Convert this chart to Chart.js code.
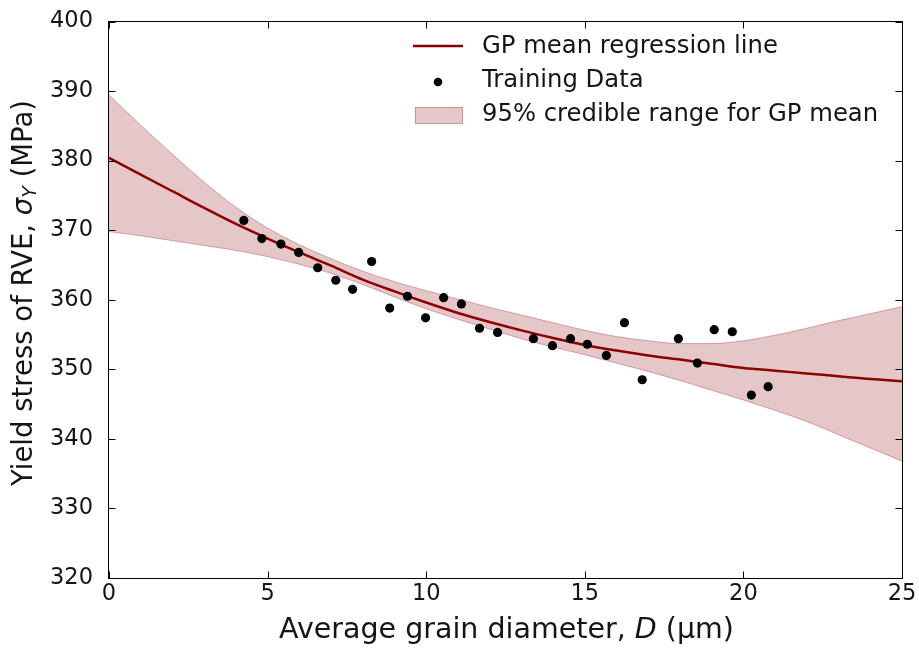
<!DOCTYPE html>
<html><head><meta charset="utf-8">
<script src="https://cdn.jsdelivr.net/npm/chart.js@4"></script>
<style>html,body{margin:0;padding:0;background:#fff}#wrap{position:relative;width:919px;height:649px}</style>
</head><body><div id="wrap"><canvas id="c" width="919" height="649"></canvas></div>
<script>
// ---- data ----
const gridX  = [0,1,2,3,4,5,6,7,8,9,10,11,12,13,14,15,16,17,18,19,20,21,22,23,24,25];
const meanY  = [380.4,378.0,375.6,373.2,370.9,368.8,366.8,364.9,362.9,361.2,359.6,358.1,356.8,355.6,354.5,353.5,352.7,352.0,351.4,350.8,350.2,349.8,349.4,349.0,348.6,348.3];
const upperY = [389.4,385.1,380.9,376.9,373.3,370.3,367.9,365.9,364.1,362.6,361.3,360.1,358.9,357.8,356.7,355.6,354.7,354.1,353.7,353.7,354.1,354.9,355.9,357.0,358.0,359.0];
const lowerY = [369.8,369.2,368.5,367.8,367.1,366.2,365.1,363.8,362.2,360.4,358.7,357.2,355.8,354.4,353.2,352.1,350.9,349.7,348.4,347.0,345.6,344.1,342.5,340.6,338.7,336.8];
const trainX = [4.25,4.82,5.42,5.98,6.58,7.15,7.68,8.28,8.85,9.41,9.98,10.55,11.11,11.68,12.25,13.38,13.98,14.55,15.08,15.68,16.25,16.81,17.95,18.55,19.08,19.65,20.25,20.78];
const trainY = [371.4,368.8,368.0,366.8,364.6,362.8,361.5,365.5,358.8,360.5,357.4,360.3,359.4,355.9,355.3,354.4,353.4,354.4,353.6,352.0,356.7,348.5,354.4,350.9,355.7,355.4,346.3,347.5];
const xTicks = [0,5,10,15,20,25];
const yTicks = [320,330,340,350,360,370,380,390,400];
const legendLabels = ['GP mean regression line','Training Data','95% credible range for GP mean'];
const xTitleParts = [['Average grain diameter, ','n'],['D','i'],[' (\u03bcm)','n']];
const yTitleParts = [['Yield stress of RVE, ','n'],['\u03c3','i'],['Y','s'],[' (MPa)','n']];

const LINE = '#8b0000';
const BAND = 'rgba(180, 90, 96, 0.34)';
const EDGE = 'rgba(185, 100, 106, 0.55)';
const TXT = '#151515';
const FONT = 'DejaVu Sans';

const pts = (xs, ys) => xs.map((x, i) => ({x: x, y: ys[i]}));

const frameTicks = {
  id: 'frameTicks',
  afterDatasetsDraw(chart) {
    const {ctx, chartArea: a, scales} = chart;
    ctx.save();
    ctx.strokeStyle = '#000'; ctx.lineWidth = 1;
    const L = Math.round(a.left) - 0.5, R = Math.round(a.right) + 0.5, T = Math.round(a.top) - 0.5, B = Math.round(a.bottom) + 0.5;
    ctx.strokeRect(L, T, R - L, B - T);
    ctx.beginPath();
    yTicks.forEach(v => {
      const y = Math.round(scales.y.getPixelForValue(v)) + 0.5;
      ctx.moveTo(L, y); ctx.lineTo(L + 7, y);
      ctx.moveTo(R, y); ctx.lineTo(R - 7, y);
    });
    xTicks.forEach(v => {
      const x = Math.round(scales.x.getPixelForValue(v)) + 0.5;
      ctx.moveTo(x, B); ctx.lineTo(x, B - 7);
      ctx.moveTo(x, T); ctx.lineTo(x, T + 7);
    });
    ctx.stroke();
    ctx.restore();
  }
};

function fontFor(kind, size) {
  if (kind === 'i') return 'italic ' + size + 'px "' + FONT + '"';
  if (kind === 's') return 'italic ' + Math.round(size * 0.7) + 'px "' + FONT + '"';
  return size + 'px "' + FONT + '"';
}
function drawParts(ctx, parts, size) {
  let total = 0;
  parts.forEach(p => { ctx.font = fontFor(p[1], size); total += ctx.measureText(p[0]).width; });
  let x = -total / 2;
  parts.forEach(p => {
    ctx.font = fontFor(p[1], size);
    const dy = p[1] === 's' ? size * 0.22 : 0;
    ctx.fillText(p[0], x, dy);
    x += ctx.measureText(p[0]).width;
  });
}

const titlesLegend = {
  id: 'titlesLegend',
  afterDraw(chart) {
    const {ctx, chartArea: a} = chart;
    ctx.save();
    ctx.fillStyle = TXT; ctx.textBaseline = 'middle'; ctx.textAlign = 'left';
    // x title
    ctx.save(); ctx.translate((a.left + a.right) / 2 + 1, 631); drawParts(ctx, xTitleParts, 28.5); ctx.restore();
    // y title
    ctx.save(); ctx.translate(25, 293); ctx.rotate(-Math.PI / 2); drawParts(ctx, yTitleParts, 27.5); ctx.restore();
    // legend
    ctx.strokeStyle = LINE; ctx.lineWidth = 2.5;
    ctx.beginPath(); ctx.moveTo(413, 46); ctx.lineTo(463, 46); ctx.stroke();
    ctx.fillStyle = '#000';
    ctx.beginPath(); ctx.arc(438, 82, 4.3, 0, Math.PI * 2); ctx.fill();
    ctx.fillStyle = BAND; ctx.fillRect(415, 107, 48, 17);
    ctx.strokeStyle = EDGE; ctx.lineWidth = 1; ctx.strokeRect(415.5, 107.5, 47, 16);
    ctx.fillStyle = TXT; ctx.font = '24.3px "' + FONT + '"';
    ctx.fillText(legendLabels[0], 482, 47);
    ctx.fillText(legendLabels[1], 482, 81);
    ctx.fillText(legendLabels[2], 482, 115);
    ctx.restore();
  }
};

new Chart(document.getElementById('c'), {
  type: 'scatter',
  data: {
    datasets: [
      {label: legendLabels[0], data: pts(gridX, meanY), showLine: true, borderColor: LINE, borderWidth: 2.5,
       pointRadius: 0, cubicInterpolationMode: 'monotone', fill: false, order: 1},
      {label: legendLabels[1], data: pts(trainX, trainY), showLine: false, pointRadius: 4.6,
       backgroundColor: '#000', borderWidth: 0, order: 0},
      {label: legendLabels[2], data: pts(gridX, upperY), showLine: true, borderColor: EDGE, borderWidth: 1,
       backgroundColor: BAND, pointRadius: 0, cubicInterpolationMode: 'monotone', fill: '+1', order: 3},
      {label: 'lower', data: pts(gridX, lowerY), showLine: true, borderColor: EDGE, borderWidth: 1,
       pointRadius: 0, cubicInterpolationMode: 'monotone', fill: false, order: 3}
    ]
  },
  options: {
    responsive: false, animation: false, devicePixelRatio: 1,
    layout: {padding: {top: 16, right: 17, left: 0, bottom: 0}},
    plugins: {legend: {display: false}, tooltip: {enabled: false}},
    scales: {
      x: {type: 'linear', position: 'bottom', min: 0, max: 25,
          afterBuildTicks: s => { s.ticks = xTicks.map(v => ({value: v})); },
          afterFit: s => { s.height = 71; },
          ticks: {font: {family: FONT, size: 22.5}, color: TXT, padding: -5, maxRotation: 0},
          grid: {display: false}, border: {display: false}, title: {display: false}},
      y: {type: 'linear', position: 'left', min: 320, max: 400,
          afterBuildTicks: s => { s.ticks = yTicks.map(v => ({value: v})); },
          afterFit: s => { s.width = 109; },
          ticks: {font: {family: FONT, size: 22.5}, color: TXT, padding: 8},
          grid: {display: false}, border: {display: false}, title: {display: false}}
    }
  },
  plugins: [frameTicks, titlesLegend]
});
</script></body></html>
